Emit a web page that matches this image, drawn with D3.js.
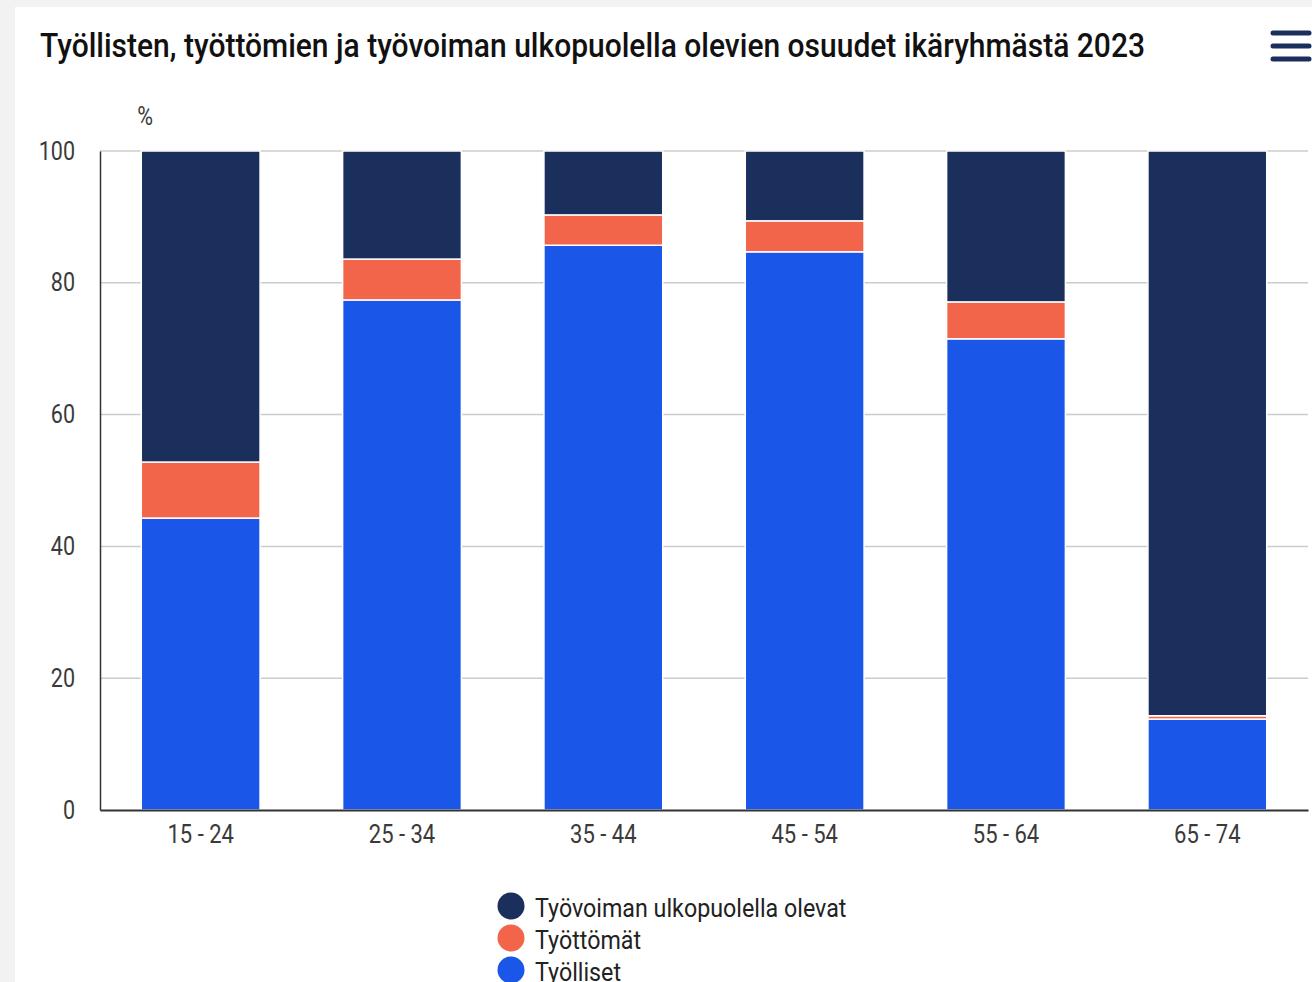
<!DOCTYPE html>
<html>
<head>
<meta charset="utf-8">
<title>Työllisten osuudet</title>
<style>
  body { margin: 0; background: #f2f2f2; }
  svg { display: block; }
  .tick text { font-family: Roboto, sans-serif; font-size: 25px; fill: #3a3a3a; }
  .title { font-family: Roboto, sans-serif; font-weight: 500; font-size: 34px; fill: #111; }
  .legend text { font-family: Roboto, sans-serif; font-size: 25px; fill: #222; }
</style>
</head>
<body>
<svg width="1312" height="982"></svg>
<script src="https://d3js.org/d3.v7.min.js"></script>
<script>
// ikäryhmät ja osuudet (%)
var ageGroups = ["15 - 24", "25 - 34", "35 - 44", "45 - 54", "55 - 64", "65 - 74"];
var employed = [44.3, 77.4, 85.7, 84.7, 71.5, 13.8];
var unemployed = [8.5, 6.2, 4.6, 4.7, 5.6, 0.5];
var outside = [47.2, 16.4, 9.7, 10.6, 22.9, 85.7];
var yTicks = [0, 20, 40, 60, 80, 100];

var seriesNames = ["Työlliset", "Työttömät", "Työvoiman ulkopuolella olevat"];
var colors = ["#1a56e8", "#f2654a", "#1b2f5c"];

var svg = d3.select("svg");

// kapeampi fontti: puristetaan tekstiä vaakasuunnassa
function condense(sel, f) {
  sel.each(function () {
    var w = this.getComputedTextLength();
    d3.select(this)
      .attr("textLength", w * f)
      .attr("lengthAdjust", "spacingAndGlyphs");
  });
}

// kortti
svg.append("rect")
    .attr("x", 15).attr("y", 7)
    .attr("width", 1312).attr("height", 1000)
    .attr("fill", "#fff");

svg.append("text")
    .attr("class", "title")
    .attr("x", 40).attr("y", 57)
    .attr("textLength", 1105)
    .attr("lengthAdjust", "spacingAndGlyphs")
    .text("Työllisten, työttömien ja työvoiman ulkopuolella olevien osuudet ikäryhmästä 2023");

// menu
[33, 46, 59].forEach(function (y) {
  svg.append("line")
      .attr("x1", 1273).attr("x2", 1309)
      .attr("y1", y).attr("y2", y)
      .attr("stroke", "#1b2f5c")
      .attr("stroke-width", 5)
      .attr("stroke-linecap", "round");
});

var margin = {left: 100, right: 1308, top: 151, bottom: 810};

var x = d3.scaleBand()
    .domain(ageGroups)
    .range([margin.left, margin.right])
    .paddingInner(0.41)
    .paddingOuter(0.205);

var y = d3.scaleLinear()
    .domain([0, 100])
    .range([margin.bottom, margin.top]);

// grid
svg.append("g")
    .selectAll("line")
    .data(yTicks.slice(1))
    .enter().append("line")
    .attr("x1", margin.left).attr("x2", margin.right)
    .attr("y1", function (d) { return y(d); })
    .attr("y2", function (d) { return y(d); })
    .attr("stroke", "#ccc")
    .attr("stroke-width", 1.5);

var yAxis = svg.append("g")
    .attr("transform", "translate(" + margin.left + ",0)")
    .call(d3.axisLeft(y).tickValues(yTicks).tickSize(0).tickPadding(25));
yAxis.select(".domain").attr("stroke", "#333").attr("stroke-width", 1.5);
condense(yAxis.selectAll(".tick text"), 0.86);

var pct = svg.append("text")
    .attr("x", 145).attr("y", 125)
    .attr("text-anchor", "middle")
    .style("font-family", "Roboto, sans-serif")
    .style("font-size", "25px")
    .attr("fill", "#3a3a3a")
    .text("%");
condense(pct, 0.86);

// pinotut pylväät
var rows = ageGroups.map(function (g, i) {
  return {group: g, a: employed[i], b: unemployed[i], c: outside[i]};
});
var stack = d3.stack().keys(["a", "b", "c"]);
var layers = stack(rows);

svg.append("g")
    .selectAll("g")
    .data(layers)
    .enter().append("g")
    .attr("fill", function (d, i) { return colors[i]; })
    .selectAll("rect")
    .data(function (d) { return d; })
    .enter().append("rect")
    .attr("x", function (d) { return x(d.data.group); })
    .attr("width", x.bandwidth())
    .attr("y", function (d) { return y(d[1]); })
    .attr("height", function (d) { return y(d[0]) - y(d[1]); })
    .attr("stroke", "#fff")
    .attr("stroke-width", 1.5);

var xAxis = svg.append("g")
    .attr("transform", "translate(0," + margin.bottom + ")")
    .call(d3.axisBottom(x).tickSize(0).tickPadding(15));
xAxis.select(".domain").attr("stroke", "#333").attr("stroke-width", 2);
condense(xAxis.selectAll(".tick text"), 0.88);

// selite
var legendItems = [2, 1, 0];
var legend = svg.append("g").attr("class", "legend");
legendItems.forEach(function (k, i) {
  var ly = 906 + i * 32;
  legend.append("circle")
      .attr("cx", 511).attr("cy", ly)
      .attr("r", 13.5)
      .attr("fill", colors[k]);
  legend.append("text")
      .attr("x", 535).attr("y", ly + 11)
      .text(seriesNames[k]);
});
condense(legend.selectAll("text"), 0.93);
</script>
</body>
</html>
